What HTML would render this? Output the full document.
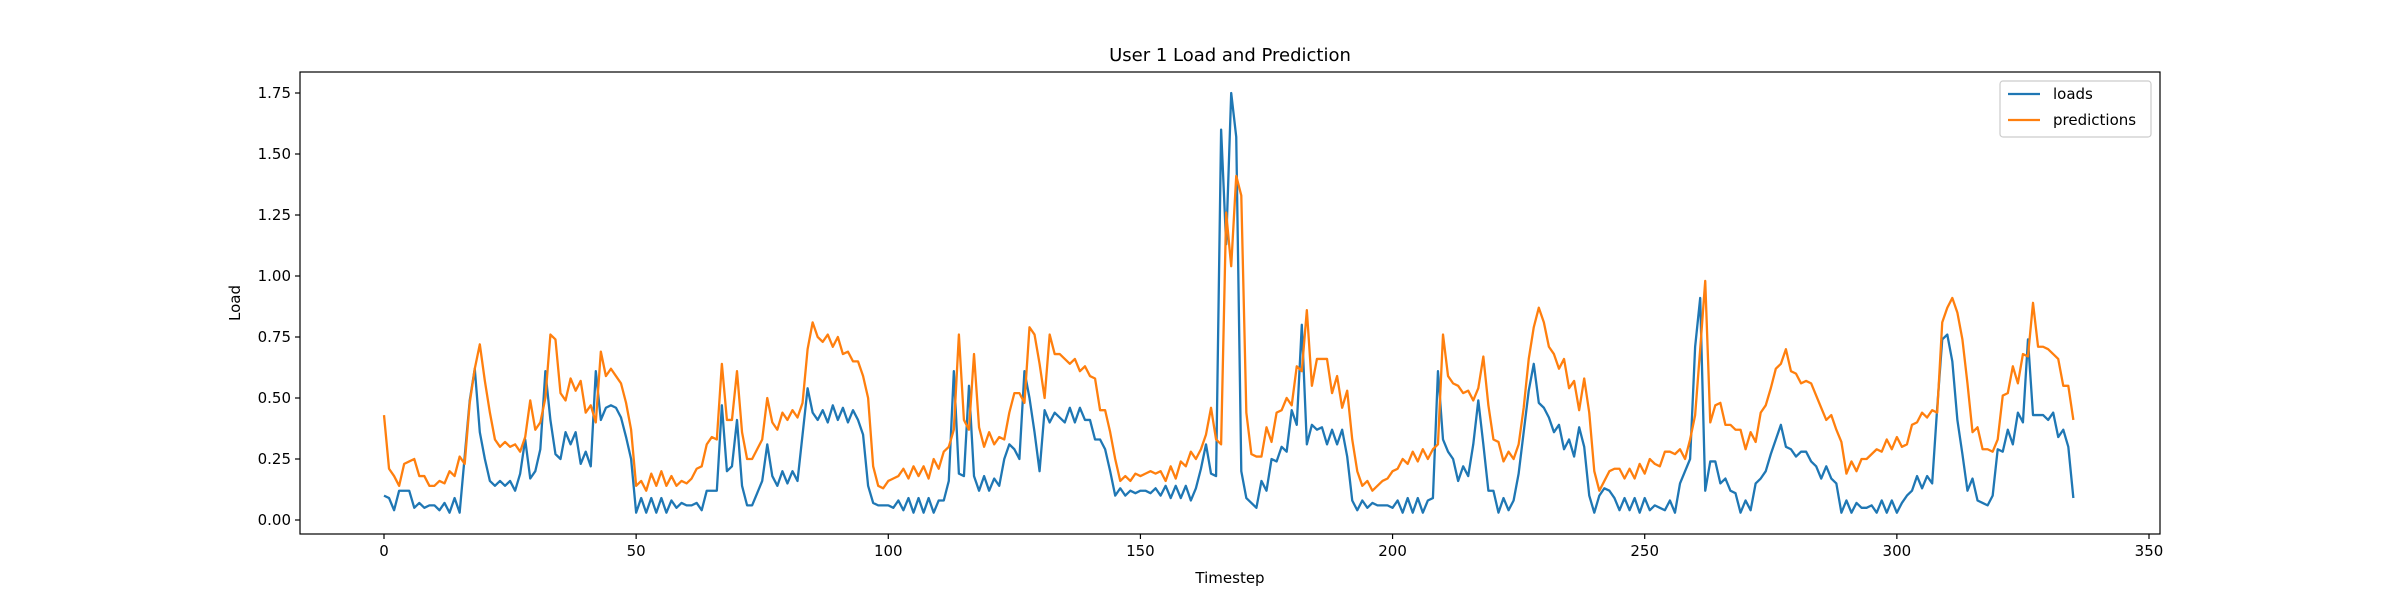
<!DOCTYPE html>
<html><head><meta charset="utf-8"><style>
html,body{margin:0;padding:0;background:#fff;}
svg{display:block;font-family:"DejaVu Sans","Liberation Sans",sans-serif;}
</style></head><body>
<svg id="chart" width="2400" height="600" viewBox="0 0 2400 600" xmlns="http://www.w3.org/2000/svg">
<rect x="0" y="0" width="2400" height="600" fill="#fff"/>
<text x="1230" y="61" font-size="18" text-anchor="middle" fill="#000">User 1 Load and Prediction</text>
<g id="plot"></g>
<text x="1230" y="583" font-size="15" text-anchor="middle" fill="#000">Timestep</text>
<text x="0" y="0" font-size="15" text-anchor="middle" fill="#000" transform="translate(240,303) rotate(-90)">Load</text>
<g>
<rect x="2000" y="81" width="151" height="56" rx="3" fill="#fff" stroke="#ccc" stroke-width="1.2"/>
<line x1="2008" y1="94" x2="2040" y2="94" stroke="#1f77b4" stroke-width="2.3"/>
<text x="2053" y="99" font-size="15" fill="#000">loads</text>
<line x1="2008" y1="120" x2="2040" y2="120" stroke="#ff7f0e" stroke-width="2.3"/>
<text x="2053" y="125" font-size="15" fill="#000">predictions</text>
</g>
</svg>
<script>
const loads = [0.10,0.09,0.04,0.12,0.12,0.12,0.05,0.07,0.05,0.06,
0.06,0.04,0.07,0.03,0.09,0.03,0.26,
0.49,0.62,0.36,0.25,0.16,0.14,0.16,0.14,0.16,0.12,0.19,0.33,0.17,0.20,0.29,0.61,0.41,0.27,0.25,0.36,0.31,0.36,0.23,0.28,0.22,0.61,0.41,0.46,0.47,0.46,0.42,0.34,0.25,0.03,
0.09,0.03,0.09,0.03,0.09,0.03,0.08,0.05,0.07,0.06,0.06,0.07,0.04,0.12,0.12,0.12,0.47,0.20,0.22,0.41,0.14,0.06,0.06,0.11,0.16,0.31,0.18,0.14,0.20,0.15,0.20,0.16,0.35,0.54,0.44,0.41,0.45,0.40,0.47,0.41,0.46,0.40,0.45,0.41,0.35,0.14,0.07,0.06,0.06,0.06,
0.05,0.08,0.04,0.09,0.03,0.09,0.03,0.09,0.03,0.08,0.08,0.16,0.61,0.19,0.18,0.55,0.18,0.12,0.18,0.12,0.17,0.14,0.25,0.31,0.29,0.25,0.61,0.50,0.36,0.20,0.45,0.40,0.44,0.42,0.40,0.46,0.40,0.46,0.41,0.41,0.33,0.33,0.29,0.20,0.10,0.13,0.10,0.12,0.11,
0.12,0.12,0.11,0.13,0.10,0.14,0.09,0.14,0.09,0.14,0.08,0.13,0.21,0.31,0.19,0.18,1.60,1.13,1.75,1.57,0.20,0.09,0.07,0.05,0.16,0.12,0.25,0.24,0.30,0.28,0.45,0.39,0.80,0.31,0.39,0.37,0.38,0.31,0.37,0.31,0.37,0.26,0.08,0.04,0.08,0.05,0.07,0.06,0.06,0.06,0.05,0.08,
0.03,0.09,0.03,0.09,0.03,0.08,0.09,0.61,0.33,0.28,0.25,0.16,0.22,0.18,0.31,0.49,0.31,0.12,0.12,0.03,0.09,0.04,0.08,0.19,0.36,0.53,0.64,0.48,0.46,0.42,0.36,0.39,0.29,0.33,0.26,0.38,0.30,0.10,0.03,0.10,0.13,0.12,0.09,0.04,0.09,0.04,0.09,0.03,0.09,0.04,0.06,
0.05,0.04,0.08,0.03,0.15,0.20,0.25,0.71,0.91,0.12,0.24,0.24,0.15,0.17,0.12,0.11,0.03,0.08,0.04,0.15,0.17,0.20,0.27,0.33,0.39,0.30,0.29,0.26,0.28,0.28,0.24,0.22,0.17,0.22,0.17,0.15,0.03,0.08,0.03,0.07,0.05,0.05,0.06,0.03,0.08,0.03,0.08,0.03,0.07,
0.10,0.12,0.18,0.13,0.18,0.15,0.46,0.74,0.76,0.65,0.41,0.27,0.12,0.17,0.08,0.07,0.06,0.10,0.29,0.28,0.37,0.31,0.44,0.40,0.74,0.43,0.43,0.43,0.41,0.44,0.34,0.37,0.30,0.09];
const predictions = [0.43,0.21,0.18,0.14,0.23,0.24,0.25,0.18,0.18,0.14,0.14,0.16,0.15,0.20,0.18,0.26,0.23,0.48,0.62,0.72,0.57,0.44,0.33,0.30,0.32,0.30,0.31,0.28,0.34,0.49,0.37,0.40,0.50,0.76,0.74,0.52,0.49,0.58,0.53,0.57,0.44,0.47,0.40,0.69,0.59,0.62,0.59,0.56,0.48,0.37,0.14,
0.16,0.12,0.19,0.14,0.20,0.14,0.18,0.14,0.16,0.15,0.17,0.21,0.22,0.31,0.34,0.33,0.64,0.41,0.41,0.61,0.36,0.25,0.25,0.29,0.33,0.50,0.40,0.37,0.44,0.41,0.45,0.42,0.48,0.70,0.81,0.75,0.73,0.76,0.71,0.75,0.68,0.69,0.65,0.65,0.59,0.50,0.22,0.14,0.13,0.16,
0.17,0.18,0.21,0.17,0.22,0.18,0.22,0.17,0.25,0.21,0.28,0.30,0.37,0.76,0.41,0.37,0.68,0.38,0.30,0.36,0.31,0.34,0.33,0.44,0.52,0.52,0.48,0.79,0.76,0.64,0.50,0.76,0.68,0.68,0.66,0.64,0.66,0.61,0.63,0.59,0.58,0.45,0.45,0.36,0.25,0.16,0.18,0.16,0.19,
0.18,0.19,0.20,0.19,0.20,0.16,0.22,0.17,0.24,0.22,0.28,0.25,0.29,0.35,0.46,0.33,0.31,1.26,1.04,1.41,1.33,0.44,0.27,0.26,0.26,0.38,0.32,0.44,0.45,0.50,0.47,0.63,0.61,0.86,0.55,0.66,0.66,0.66,0.52,0.59,0.46,0.53,0.33,0.20,0.14,0.16,0.12,0.14,0.16,0.17,0.20,0.21,
0.25,0.23,0.28,0.24,0.29,0.25,0.29,0.31,0.76,0.59,0.56,0.55,0.52,0.53,0.49,0.54,0.67,0.47,0.33,0.32,0.24,0.28,0.25,0.31,0.46,0.66,0.79,0.87,0.81,0.71,0.68,0.62,0.66,0.54,0.57,0.45,0.58,0.44,0.20,0.12,0.16,0.20,0.21,0.21,0.17,0.21,0.17,0.23,0.19,0.25,0.23,
0.22,0.28,0.28,0.27,0.29,0.25,0.33,0.43,0.70,0.98,0.40,0.47,0.48,0.39,0.39,0.37,0.37,0.29,0.36,0.32,0.44,0.47,0.54,0.62,0.64,0.70,0.61,0.60,0.56,0.57,0.56,0.51,0.46,0.41,0.43,0.37,0.32,0.19,0.24,0.20,0.25,0.25,0.27,0.29,0.28,0.33,0.29,0.34,0.30,
0.31,0.39,0.40,0.44,0.42,0.45,0.44,0.81,0.87,0.91,0.85,0.74,0.56,0.36,0.38,0.29,0.29,0.28,0.33,0.51,0.52,0.63,0.56,0.68,0.67,0.89,0.71,0.71,0.70,0.68,0.66,0.55,0.55,0.41];
const xTicks = [0,50,100,150,200,250,300,350];
const yTicks = [0.00,0.25,0.50,0.75,1.00,1.25,1.50,1.75];
const yTickLabels = ["0.00","0.25","0.50","0.75","1.00","1.25","1.50","1.75"];

const NS = "http://www.w3.org/2000/svg";
const AX = {left:300, right:2160, top:72, bottom:534};
function xs(v){ return 384 + v * (2149 - 384) / 350; }
function ys(v){ return 520 - v * 244; }
const plot = document.getElementById('plot');
function mk(tag, attrs){ const e = document.createElementNS(NS, tag); for (const k in attrs) e.setAttribute(k, attrs[k]); return e; }

xTicks.forEach(function(t){
  const g = mk('g', {});
  
  
  g.appendChild(mk('line', {x1:xs(t), x2:xs(t), y1:AX.bottom, y2:AX.bottom+5, stroke:'#000', 'stroke-width':1.2}));
  const tx = mk('text', {x:xs(t), y:AX.bottom+22, 'font-size':15, 'text-anchor':'middle', fill:'#000'});
  tx.textContent = String(t);
  g.appendChild(tx);
  plot.appendChild(g);
});
yTicks.forEach(function(t, i){
  const g = mk('g', {});
  
  
  g.appendChild(mk('line', {x1:AX.left-5, x2:AX.left, y1:ys(t), y2:ys(t), stroke:'#000', 'stroke-width':1.2}));
  const tx = mk('text', {x:AX.left-9, y:ys(t)+5, 'font-size':15, 'text-anchor':'end', fill:'#000'});
  tx.textContent = yTickLabels[i];
  g.appendChild(tx);
  plot.appendChild(g);
});

function series(arr, color, name){
  const d = arr.map(function(v, i){ return (i ? 'L' : 'M') + xs(i).toFixed(2) + ' ' + ys(v).toFixed(2); }).join(' ');
  const p = mk('path', {d:d, fill:'none', stroke:color, 'stroke-width':2.3, 'stroke-linejoin':'round'});
  
  
  plot.appendChild(p);
}
series(loads, '#1f77b4', 'loads-line');
series(predictions, '#ff7f0e', 'predictions-line');

const frame = mk('rect', {x:AX.left, y:AX.top, width:AX.right-AX.left, height:AX.bottom-AX.top, fill:'none', stroke:'#000', 'stroke-width':1.2});


plot.appendChild(frame);
</script>
</body></html>
